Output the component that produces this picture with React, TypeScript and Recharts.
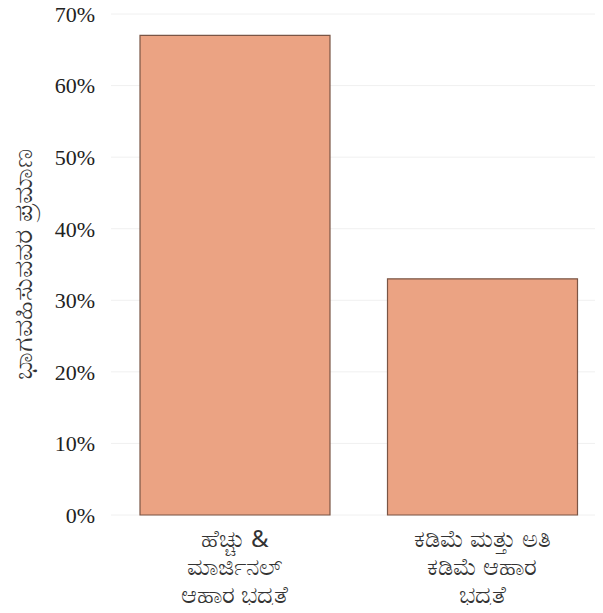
import React from "react";
import { BarChart, Bar, XAxis, YAxis, CartesianGrid } from "recharts";

const categories = ["ಹೆಚ್ಚು & ಮಾರ್ಜಿನಲ್ ಆಹಾರ ಭದ್ರತೆ", "ಕಡಿಮೆ ಮತ್ತು ಅತಿ ಕಡಿಮೆ ಆಹಾರ ಭದ್ರತೆ"];
const categoryLines = [
  ["ಹೆಚ್ಚು &", "ಮಾರ್ಜಿನಲ್", "ಆಹಾರ ಭದ್ರತೆ"],
  ["ಕಡಿಮೆ ಮತ್ತು ಅತಿ", "ಕಡಿಮೆ ಆಹಾರ", "ಭದ್ರತೆ"],
];
const shares = [0.67, 0.33];
const yTicks = [0, 0.1, 0.2, 0.3, 0.4, 0.5, 0.6, 0.7];
const yLabel = "ಭಾಗವಹಿಸುವವರ ಪ್ರಮಾಣ";

const data = categories.map((c, i) => ({ name: c, value: shares[i], idx: i }));

const XTick = (props: any) => {
  const { x, y, index } = props;
  const lines = categoryLines[index] || [];
  return (
    <g transform={`translate(${x},${y})`}>
      {lines.map((l, i) => (
        <text key={i} x={0} y={24 + i * 28} textAnchor="middle" fill="#333" fontSize={24} fontFamily="'Noto Sans', 'Liberation Serif', serif">
          {l}
        </text>
      ))}
    </g>
  );
};

export default function App() {
  return (
    <div style={{ margin: -8, width: 603, height: 613, background: "#fff" }}>
      <BarChart width={603} height={613} data={data} margin={{ top: 14, right: -3, left: 0, bottom: 0 }} barCategoryGap={29}>
        <CartesianGrid vertical={false} stroke="#f0f0f0" />
        <XAxis dataKey="name" axisLine={false} tickLine={false} height={98} interval={0} tick={<XTick />} />
        <YAxis
          width={111}
          domain={[0, 0.7]}
          ticks={yTicks}
          axisLine={false}
          tickLine={false}
          tickFormatter={(v: number) => `${Math.round(v * 100)}%`}
          tick={{ fill: "#222", fontSize: 22, fontFamily: "'Liberation Serif', serif" }}
          tickMargin={10}
          label={{ value: yLabel, angle: -90, position: "insideLeft", dx: 17, fill: "#333", fontSize: 27, fontFamily: "'Noto Sans', serif", style: { textAnchor: "middle" } }}
        />
        <Bar dataKey="value" fill="#EBA383" stroke="#7a5545" strokeWidth={1.2} isAnimationActive={false} />
      </BarChart>
    </div>
  );
}
